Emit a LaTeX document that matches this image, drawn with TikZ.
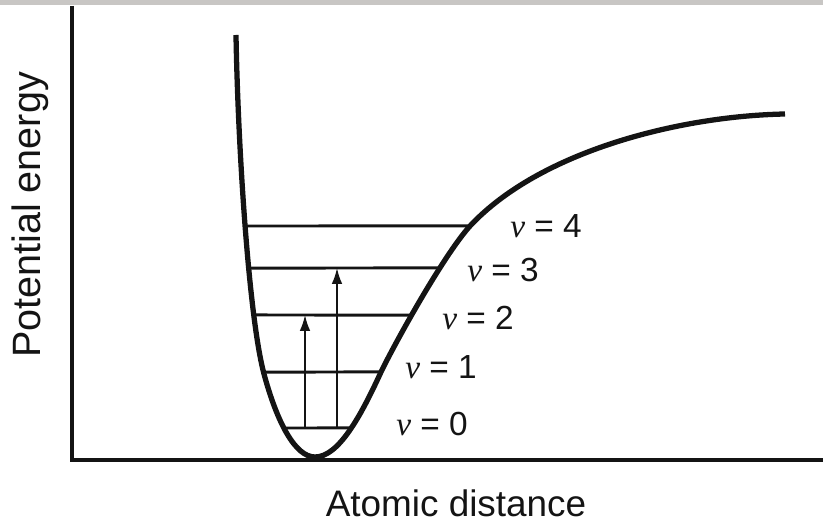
\documentclass[tikz,border=0pt]{standalone}
\usepackage{fontspec}
\setmainfont{Liberation Sans}
\newfontfamily\vibfont{Liberation Serif}
\usetikzlibrary{arrows.meta,intersections}
\definecolor{inkline}{RGB}{20,20,20}
\definecolor{bandgray}{RGB}{200,198,196}
\tikzset{
    axisline/.style={line width=2pt,inkline},
    wellcurve/.style={line width=3pt,inkline,line join=round},
    levelline/.style={line width=1.7pt,inkline},
    transvec/.style={-{Latex[length=9pt,width=6pt]},line width=1pt,inkline},
    levellabel/.style={inner sep=0pt,font=\fontsize{19}{21}\selectfont,text=inkline},
    axislabel/.style={inner sep=0pt,font=\fontsize{21}{23}\selectfont,text=inkline}
}
\newcommand{\vlev}[1]{{\vibfont\itshape v} = #1}

\begin{document}
\begin{tikzpicture}[x=0.02cm,y=-0.02cm,>=Stealth]
    \useasboundingbox (0,0) rectangle (823,523);
    % Photo band at the top
    \fill[bandgray] (0,0) rectangle (823,5);
    % Axes
    \draw[axisline] (72,6) -- (72,460) -- (823,460);
    \node[axislabel,rotate=90,font=\fontsize{22.5}{24}\selectfont] (yl) at (30,215) {Potential energy};
    \node[axislabel] (xl) at (456,503) {Atomic distance};
    % Potential well
    \draw[wellcurve,name path=well] (236,35)
        .. controls (238,150) and (249,318) .. (264,374)
        .. controls (277,422) and (295,457) .. (315,457)
        .. controls (338,457) and (360,418) .. (381,372)
        .. controls (394,345) and (443,256) .. (470,226)
        .. controls (540,151) and (680,116) .. (785,114);
    % Vibrational levels
    \foreach \k/\h in {0/428,1/372,2/315,3/268,4/226} {
        \path[name path=h\k] (200,\h) -- (520,\h);
        \path[name intersections={of=well and h\k,sort by=h\k}]
            (intersection-1) coordinate (l\k a)
            (intersection-2) coordinate (l\k b);
        \draw[levelline] (l\k a) -- (l\k b);
    }
    % Transitions
    \coordinate (t1) at (305,0);
    \coordinate (t2) at (337,0);
    \draw[transvec] (t1 |- l0a) -- (t1 |- l2a);
    \draw[transvec] (t2 |- l0a) -- (t2 |- l3a);
    % Labels
    \node[levellabel] (v0) at (432,424) {\vlev{0}};
    \node[levellabel] (v1) at (441,367) {\vlev{1}};
    \node[levellabel] (v2) at (478,318) {\vlev{2}};
    \node[levellabel] (v3) at (503,270) {\vlev{3}};
    \node[levellabel] (v4) at (546,226) {\vlev{4}};
\end{tikzpicture}
\end{document}
